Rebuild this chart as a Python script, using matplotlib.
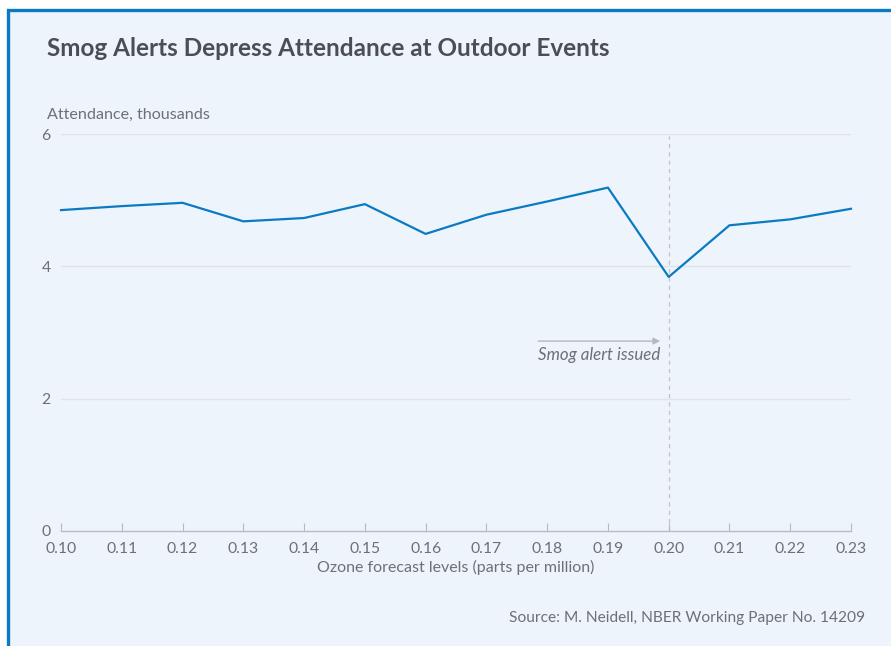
import matplotlib
matplotlib.use("Agg")
import matplotlib.pyplot as plt
from matplotlib.patches import Rectangle

# ozone forecast levels (ppm) and attendance (thousands)
ozone = [0.10, 0.11, 0.12, 0.13, 0.14, 0.15, 0.16, 0.17, 0.18, 0.19, 0.20, 0.21, 0.22, 0.23]
attendance = [4.85, 4.91, 4.96, 4.68, 4.73, 4.94, 4.49, 4.78, 4.98, 5.19, 3.84, 4.62, 4.71, 4.87]
y_ticks = [0, 2, 4, 6]
alert_level = 0.20

BG = "#eef4fb"
BLUE = "#0a7bc2"
GRAY_TXT = "#6d7175"
TITLE_TXT = "#4b4f54"

plt.rcParams['font.family'] = ['Lato', 'DejaVu Sans']

fig = plt.figure(figsize=(8.91, 6.46), dpi=100)
fig.patch.set_facecolor("white")

# panel with blue border (cut off at right and bottom)
panel = Rectangle((8 / 891, -0.1), 1.2, 0.1 + 1 - 10 / 646, transform=fig.transFigure,
                  facecolor=BG, edgecolor=BLUE, linewidth=2.4, zorder=0)
fig.add_artist(panel)

ax = fig.add_axes([61 / 891, 1 - 531 / 646, (851 - 61) / 891, (531 - 134) / 646])
ax.set_facecolor("none")
ax.set_xlim(0.10, 0.23)
ax.set_ylim(0, 6)

# gridlines
for yv in y_ticks[1:]:
    ax.axhline(yv, color="#dfe4ea", linewidth=1, zorder=1)

# alert threshold
ax.axvline(alert_level, ymin=0, ymax=5.97 / 6, color="#c3c7cc", linewidth=1,
           linestyle=(0, (3, 3)), zorder=1)

ax.plot(ozone, attendance, color=BLUE, linewidth=1.6, zorder=3, clip_on=False)

# annotation
ax.annotate("", xy=(0.1986, 2.87), xytext=(0.1785, 2.87),
            arrowprops=dict(arrowstyle="-|>", color="#b5b9be", lw=1, mutation_scale=10,
                            shrinkA=0, shrinkB=0))
ax.text(0.1986, 2.66, "Smog alert issued", style="italic", fontsize=12.2, color=GRAY_TXT,
        ha="right", va="center")

for s in ["top", "right", "left"]:
    ax.spines[s].set_visible(False)
ax.spines["bottom"].set_color("#b8bcc1")
ax.spines["bottom"].set_linewidth(1)

ax.set_xticks(ozone)
ax.set_xticklabels([f"{v:.2f}" for v in ozone])
ax.tick_params(axis="x", direction="in", length=6, color="#b8bcc1", labelsize=11.3,
               labelcolor=GRAY_TXT, pad=8)
ax.set_yticks(y_ticks)
ax.set_yticklabels([str(v) for v in y_ticks])
ax.tick_params(axis="y", length=0, labelsize=11.3, labelcolor=GRAY_TXT, pad=14)
for lbl in ax.get_yticklabels():
    lbl.set_horizontalalignment("left")

ax.set_xlabel("Ozone forecast levels (parts per million)", fontsize=11.5, color=GRAY_TXT, labelpad=3)

fig.text(47 / 891, 1 - 48 / 646, "Smog Alerts Depress Attendance at Outdoor Events",
         fontsize=17.5, fontweight="bold", color=TITLE_TXT, ha="left", va="center")
fig.text(47 / 891, 1 - 115 / 646, "Attendance, thousands", fontsize=11.6, color=GRAY_TXT,
         ha="left", va="center")
fig.text(865 / 891, 1 - 618 / 646, "Source: M. Neidell, NBER Working Paper No. 14209",
         fontsize=11.2, color=GRAY_TXT, ha="right", va="center")

fig.savefig("out.png", dpi=100, facecolor=fig.get_facecolor())
